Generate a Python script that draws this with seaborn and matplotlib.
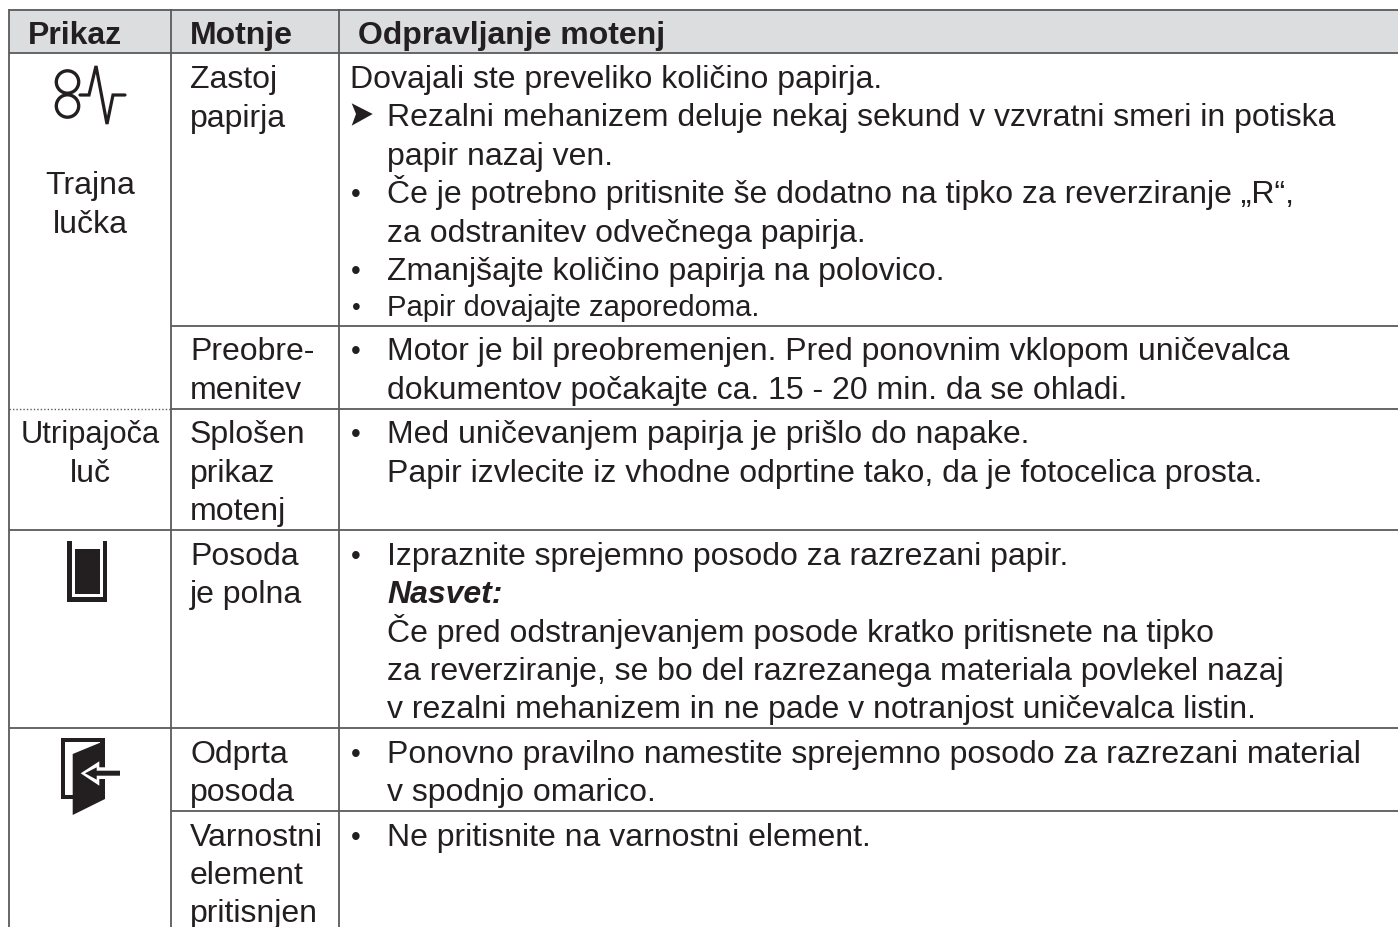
import matplotlib
matplotlib.use("Agg")
import matplotlib.pyplot as plt
import seaborn as sns
from matplotlib.patches import Circle, Polygon, Rectangle

sns.set_theme(style="white")
plt.rcParams["font.family"] = ["Liberation Sans", "DejaVu Sans"]

INK = "#231f20"
RULE = "#5a5b5d"
HEAD = "#dcddde"

headers = ["Prikaz", "Motnje", "Odpravljanje motenj"]
header_x = [28, 190, 358]

display_labels = ["Trajna", "lučka", "Utripajoča", "luč"]
display_y = [194, 233, 443, 482]
display_fs = [23.0, 23.0, 22.2, 23.0]

fault_labels = ["Zastoj", "papirja", "Preobre-", "menitev", "Splošen", "prikaz", "motenj",
                "Posoda", "je polna", "Odprta", "posoda", "Varnostni", "element", "pritisnjen"]
fault_y = [88, 127, 360, 399, 443, 482, 520, 565, 603, 763, 801, 846, 884, 922]

remedy_lines = [
    "Rezalni mehanizem deluje nekaj sekund v vzvratni smeri in potiska",
    "papir nazaj ven.",
    "Če je potrebno pritisnite še dodatno na tipko za reverziranje „R“,",
    "za odstranitev odvečnega papirja.",
    "Zmanjšajte količino papirja na polovico.",
    "Motor je bil preobremenjen. Pred ponovnim vklopom uničevalca",
    "dokumentov počakajte ca. 15 - 20 min. da se ohladi.",
    "Med uničevanjem papirja je prišlo do napake.",
    "Papir izvlecite iz vhodne odprtine tako, da je fotocelica prosta.",
    "Izpraznite sprejemno posodo za razrezani papir.",
    "Če pred odstranjevanjem posode kratko pritisnete na tipko",
    "za reverziranje, se bo del razrezanega materiala povlekel nazaj",
    "v rezalni mehanizem in ne pade v notranjost uničevalca listin.",
    "Ponovno pravilno namestite sprejemno posodo za razrezani material",
    "v spodnjo omarico.",
    "Ne pritisnite na varnostni element.",
]
remedy_y = [126, 165, 203, 242, 280, 360, 399, 443, 482, 565, 642, 680, 718, 763, 801, 846]

intro_line = "Dovajali ste preveliko količino papirja."
small_line = "Papir dovajajte zaporedoma."
tip_line = "Nasvet:"
bullet_y = [203, 280, 360, 443, 565, 763, 846]

FS = 23.0

fig = plt.figure(figsize=(13.98, 9.28), dpi=100)
ax = fig.add_axes([0, 0, 1, 1])
ax.set_xlim(0, 1398)
ax.set_ylim(928, 0)
ax.axis("off")

ax.add_patch(Rectangle((9, 10), 1389, 43.5, fc=HEAD, ec="none"))

lw = 1.3
for y, x0 in [(10.5, 9), (53.5, 9), (326.5, 171), (409.5, 171), (530.5, 9), (728.5, 9), (811.5, 171)]:
    ax.plot([x0, 1398], [y, y], color=RULE, lw=lw, solid_capstyle="butt")
for x in [9, 171, 339]:
    ax.plot([x, x], [10, 928], color=RULE, lw=lw, solid_capstyle="butt")
ax.plot([9, 171], [409.5, 409.5], color=RULE, lw=1.0, ls=(0, (1, 1.5)))

for x, s in zip(header_x, headers):
    ax.text(x, 44, s, fontsize=FS, fontweight="bold", color=INK, va="baseline")
for y, s, fs in zip(display_y, display_labels, display_fs):
    ax.text(90, y, s, fontsize=fs, color=INK, ha="center", va="baseline")
for y, s in zip(fault_y, fault_labels):
    ax.text(190, y, s, fontsize=FS, color=INK, va="baseline")
for y, s in zip(remedy_y, remedy_lines):
    ax.text(387, y, s, fontsize=FS, color=INK, va="baseline")
ax.text(350, 88, intro_line, fontsize=FS, color=INK, va="baseline")
ax.text(387, 316, small_line, fontsize=21.1, color=INK, va="baseline")
ax.text(387, 603, tip_line, fontsize=FS, color=INK, va="baseline",
        fontweight="bold", fontstyle="italic")
for y in bullet_y:
    ax.text(356, y - 1, "•", fontsize=20, color=INK, ha="center", va="baseline")
ax.text(356, 315, "•", fontsize=18, color=INK, ha="center", va="baseline")

# Instruction arrowhead
ax.add_patch(Polygon([(351.7, 104.3), (372.7, 115), (351.7, 126.7), (356, 115)], fc=INK, ec="none"))

# Signal icon
for cy in (83, 107):
    ax.add_patch(Circle((67.5, cy), 11.2, fc="none", ec=INK, lw=2.4))
ax.plot([80, 89, 96, 107, 113, 125], [96, 96, 67, 125, 96, 96], color=INK, lw=2.3,
        solid_joinstyle="miter")

# Full-bin icon
ax.add_patch(Polygon([(67, 541.7), (71.5, 541.7), (71.5, 597.5), (102.5, 597.5), (102.5, 541.7),
                      (107, 541.7), (107, 602.6), (67, 602.6)], fc=INK, ec="none"))
ax.add_patch(Rectangle((74.7, 550), 25.3, 44.7, fc=INK, ec="none"))

# Open-door icon
ax.add_patch(Polygon([(60.7, 739.3), (105, 739.3), (105, 760), (100, 760), (100, 743.3), (64.7, 743.3),
                      (64.7, 796), (73, 796), (73, 800), (60.7, 800)], fc=INK, ec="none"))
ax.add_patch(Polygon([(72.7, 755), (105, 741.7), (105, 800), (72.7, 816)], fc=INK, ec="none"))
ax.add_patch(Polygon([(80.7, 774.3), (99.3, 762.3), (99.3, 768.3), (105, 768.3), (105, 780),
                      (99.3, 780), (99.3, 786.7)], fc="white", ec="none"))
ax.add_patch(Polygon([(85, 774.3), (96.7, 768.3), (96.7, 771.7), (120, 771.7), (120, 776.7),
                      (96.7, 776.7), (96.7, 780.7)], fc=INK, ec="none"))

fig.savefig("out.png", dpi=100, facecolor="white")
